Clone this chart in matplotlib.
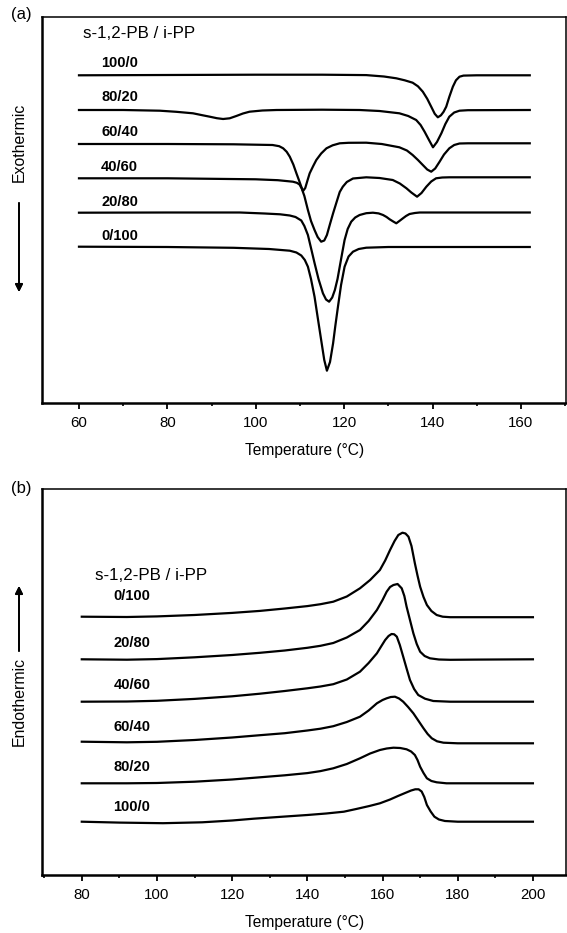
import matplotlib
matplotlib.use("Agg")
import matplotlib.pyplot as plt
from matplotlib.ticker import MultipleLocator

plt.rcParams['font.family'] = ['Liberation Sans', 'DejaVu Sans']

# ---- (a) cooling scans, exothermic downward ----
cool_labels = ['100/0', '80/20', '60/40', '40/60', '20/80', '0/100']

cool_t_100_0 = [60, 80, 100, 115, 125, 129, 131.8, 133.7, 135.5, 136.7, 137.8, 138.8, 139.7, 140.5,
                141.2, 141.9, 142.5, 143.1, 143.8, 144.6, 145.3, 146.1, 147.0, 150, 162]
cool_hf_100_0 = [0, 0.3, 0.6, 0.6, 0.2, -1.2, -3.0, -5.0, -7.4, -11.0, -16.4, -23.5, -31.4, -38.5,
                 -42.0, -40.0, -36.5, -31.4, -21.5, -11.4, -5.0, -1.4, -0.3, 0, 0]

cool_t_80_20 = [60, 70, 78.3, 82, 85.8, 88, 89.6, 91.2, 92.6, 94.1, 95.6, 97.1, 98.6, 101.5, 104.7,
                115, 123.5, 128, 132.5, 134.5, 136.3, 137.3, 138.2, 139.2, 140.1, 141.0, 142.0,
                142.9, 143.8, 144.9, 146.1, 148, 162]
cool_hf_80_20 = [0, 0, -0.7, -1.8, -3.3, -5.3, -6.7, -8.2, -9.0, -8.3, -6.0, -3.5, -1.7, -0.5, 0,
                 0.3, 0, -1.0, -3.3, -6.0, -10.0, -15.0, -21.7, -30.0, -37.3, -32.0, -23.3,
                 -14.0, -6.7, -2.5, -0.7, -0.2, 0]

cool_t_60_40 = [60, 80, 95, 103.8, 105.3, 106.2, 107.0, 107.7, 108.5, 109.2, 109.8, 110.3, 110.7,
                111.2, 111.7, 112.2, 113.0, 113.7, 114.8, 116.0, 117.4, 119.0, 121, 125, 128.5,
                132.5, 134.2, 135.5, 136.7, 137.8, 138.8, 139.7, 140.6, 141.6, 142.6, 143.8,
                144.9, 146.1, 148, 162]
cool_hf_60_40 = [0, 0, -0.3, -1, -2.2, -4.3, -7.8, -12.7, -20.5, -29.3, -36.5, -42.7, -47,
                 -44, -36.5, -29.3, -22, -16, -9.5, -4.3, -1.3, 0.7, 1.2, 1.3, 0,
                 -3.3, -6.5, -11, -16, -21, -25.5, -27.7, -24.5, -17.7, -10.5, -4.3,
                 -1, 0.5, 0.7, 0.7]

cool_t_40_60 = [60, 80, 100, 105, 108.4, 109.3, 109.9, 110.4, 111.0, 111.8, 112.5, 113.3, 114.0,
                114.8, 115.5, 116.1, 116.8, 117.5, 118.2, 119.0, 119.7, 120.6, 122.0, 125.0, 128,
                131.0, 132.6, 134.1, 135.2, 136.5, 137.5, 138.6, 139.7, 140.8, 142.2, 143.8, 147, 162]
cool_hf_40_60 = [0, 0, -1, -1.9, -3.4, -4.5, -6.2, -10.2, -17.7, -31.7, -42.7, -51.7, -58.7,
                 -63.4, -62.2, -56.7, -45.7, -35, -25, -13.7, -8.4, -3.7, -0.2, 1, 0.3,
                 -1.7, -5.2, -10, -14.2, -18.4, -14.7, -8.4, -3.2, 0, 0.8, 1, 1, 1]

cool_t_20_80 = [60, 80, 96.4, 102, 105.5, 107.7, 109.0, 110.3, 111.0, 111.8, 112.5, 113.3, 114.2,
                115.2, 115.9, 116.6, 117.3, 117.9, 118.5, 119.0, 119.6, 120.1, 120.8, 121.6, 122.5,
                123.5, 125, 126.5, 127.8, 128.8, 129.6, 130.3, 131.1, 131.8, 132.5, 133.3, 134.0,
                134.8, 136, 137.1, 162]
cool_hf_20_80 = [0, 0.2, 0.2, -0.8, -1.6, -2.8, -4.3, -7.8, -13.3, -22.3, -35.3, -50.3, -66.3,
                 -80.6, -86.8, -89, -84.8, -77.3, -66.3, -54, -39.3, -27.3, -16.3, -9, -4.8,
                 -2.3, -0.5, 0, -0.7, -2.3, -4.3, -6.6, -8.8, -10.6, -8.3, -5.6, -3.3,
                 -1.3, -0.3, 0.2, 0.2]

cool_t_0_100 = [60, 80, 95, 103, 107.7, 109.2, 110.3, 111.1, 111.8, 112.5, 113.3, 114.0, 114.8,
                115.5, 116.1, 116.8, 117.5, 118.0, 118.6, 119.3, 120.1, 121.0, 122.0, 123.3,
                125.0, 130, 162]
cool_hf_0_100 = [0, -0.3, -1.1, -2.3, -4, -5.8, -8.8, -13.3, -20, -32.3, -50, -70.3, -93.3,
                 -113.3, -124, -115.3, -96.6, -79.3, -60, -38.3, -20, -9.8, -5, -2.3,
                 -1, -0.3, -0.3]

# ---- (b) heating scans, endothermic upward ----
heat_labels = ['0/100', '20/80', '40/60', '60/40', '80/20', '100/0']

heat_t_0_100 = [80, 92, 100, 110, 120, 127.4, 134, 140, 143.5, 146.9, 150.5, 154.0, 156.7, 159.3,
                160.7, 162.0, 163.2, 164.2, 165.3, 166.1, 166.9, 167.7, 168.6, 169.3, 170.0,
                170.9, 171.8, 173.0, 174.4, 176, 178, 185, 200]
heat_hf_0_100 = [0, -0.3, 0.3, 1.7, 3.8, 5.8, 8.2, 10.6, 12.5, 15, 20.2, 28.4, 36.7, 46.7,
                 56.2, 66.7, 75.7, 81.7, 84, 83.2, 80, 70.7, 53.4, 41.2, 30,
                 19.7, 11.7, 5.7, 1.7, 0, -0.5, -0.5, -0.5]

heat_t_20_80 = [80, 92, 100, 110, 120, 127.4, 134, 140, 143.5, 146.9, 150.5, 154.0, 156.3, 158.5,
                160, 161.1, 162.0, 162.9, 164.0, 165.1, 165.8, 166.4, 167.3, 168.2, 169.1,
                170.0, 171.2, 172.6, 175, 178, 185, 200]
heat_hf_20_80 = [0, -0.4, 0.2, 2.0, 4.3, 6.5, 8.8, 11.5, 13.5, 16.3, 21.8, 29.3, 38.3, 49.3,
                 59.3, 67.6, 72.3, 74.3, 75.3, 71, 63.3, 52.6, 39.3, 26, 15.3,
                 7.6, 3.3, 1, -0.2, -0.5, -0.3, 0]

heat_t_40_60 = [80, 92, 100, 110, 120, 127.4, 134, 140, 143.5, 146.9, 150.5, 154.0, 156.3, 158.5,
                159.7, 160.7, 161.6, 162.4, 163.1, 163.8, 164.6, 165.5, 166.4, 167.3, 168.4,
                169.5, 171.3, 173.5, 178, 190, 200]
heat_hf_40_60 = [0, 0.2, 0.9, 2.8, 5.4, 8.0, 10.7, 13.4, 15.2, 17.5, 22.2, 30, 38.7, 48.4,
                 55.7, 61.7, 65.7, 67.7, 67.4, 65, 56.7, 45, 33.2, 21.7, 12.7,
                 6.7, 3, 0.7, 0, 0, 0]

heat_t_60_40 = [80, 92, 100, 110, 120, 127.4, 134, 140, 143.5, 146.9, 150.5, 154.0, 156.3, 158.5,
                160, 161.1, 162.2, 163.3, 164.4, 165.5, 166.8, 168.2, 169.5, 170.9, 172.0,
                173.1, 174.5, 176.2, 180, 190, 200]
heat_hf_60_40 = [0, -0.6, -0.1, 1.7, 4.2, 6.5, 8.5, 11.2, 13.0, 15.5, 19.7, 25, 31.2, 38.4,
                 41.7, 43.4, 44.7, 45, 43.2, 40, 34.7, 28.4, 21.2, 13.4, 7.7,
                 3.4, 0.4, -1, -1.6, -1.6, -1.6]

heat_t_80_20 = [80, 92, 100, 110, 120, 127.4, 134, 140, 143.5, 146.9, 150.5, 154.0, 156.7, 159.3,
                161.1, 162.9, 164.7, 166.4, 167.6, 168.6, 169.3, 170.0, 170.9, 171.8, 173.0,
                174.4, 177, 185, 200]
heat_hf_80_20 = [0, 0, 0.3, 1.6, 3.8, 6.0, 8, 10.2, 12.2, 15, 19.3, 25, 29.8, 33.3,
                 34.8, 35.6, 35.3, 34, 31.8, 28.3, 23.3, 16.6, 10.3, 5, 2.3,
                 1, 0, 0, 0]

heat_t_100_0 = [80, 90, 101.6, 112, 120, 125.7, 133, 140, 145, 149.7, 153, 156.5, 159.3, 162,
                164.1, 166, 167.6, 168.7, 169.6, 170.4, 171.1, 171.8, 172.8, 173.8, 175,
                176.6, 180, 190, 200]
heat_hf_100_0 = [0, -0.9, -1.5, -0.6, 1.2, 3.0, 4.9, 6.7, 8.2, 10, 12.7, 15.7, 18.4, 22.2,
                 25.7, 28.7, 31.2, 32.4, 32.4, 30.2, 24.7, 16.7, 10.2, 5, 2.2,
                 0.7, 0, 0, 0]

cool_curves = [(cool_t_100_0, cool_hf_100_0), (cool_t_80_20, cool_hf_80_20),
               (cool_t_60_40, cool_hf_60_40), (cool_t_40_60, cool_hf_40_60),
               (cool_t_20_80, cool_hf_20_80), (cool_t_0_100, cool_hf_0_100)]
heat_curves = [(heat_t_0_100, heat_hf_0_100), (heat_t_20_80, heat_hf_20_80),
               (heat_t_40_60, heat_hf_40_60), (heat_t_60_40, heat_hf_60_40),
               (heat_t_80_20, heat_hf_80_20), (heat_t_100_0, heat_hf_100_0)]

# vertical stacking of the traces (layout only)
cool_shift = [327.7, 293, 259, 224.7, 190.3, 156.3]
heat_shift = [258.3, 215.7, 173.3, 133.3, 91.7, 53.3]

W, H = 567, 933
fig = plt.figure(figsize=(W / 100, H / 100), dpi=100)
ax_a = fig.add_axes([42.3 / W, 1 - 403 / H, (566 - 42.3) / W, 386 / H])
ax_b = fig.add_axes([42.3 / W, 1 - 875 / H, (566 - 42.3) / W, 386 / H])


def style_axis(ax, xlim, ticks):
    ax.set_xlim(*xlim)
    ax.set_ylim(0, 386)
    ax.set_xticks(ticks)
    ax.xaxis.set_minor_locator(MultipleLocator(10))
    ax.set_yticks([])
    ax.tick_params(axis='x', which='major', direction='out', length=4, width=1.3,
                   labelsize=10.8, pad=5.5)
    ax.tick_params(axis='x', which='minor', direction='out', length=2.2, width=1.2)
    for side in ['left', 'bottom']:
        ax.spines[side].set_linewidth(1.8)
    for side in ['top', 'right']:
        ax.spines[side].set_linewidth(1.1)
    ax.set_xlabel('Temperature (°C)', fontsize=11.2, labelpad=9.5)


style_axis(ax_a, (51.7, 170.2), [60, 80, 100, 120, 140, 160])
style_axis(ax_b, (69.5, 208.8), [80, 100, 120, 140, 160, 180, 200])

for (t, hf), s in zip(cool_curves, cool_shift):
    ax_a.plot(t, [s + v for v in hf], color='black', lw=1.6, solid_joinstyle='round')
for (t, hf), s in zip(heat_curves, heat_shift):
    ax_b.plot(t, [s + v for v in hf], color='black', lw=1.6, solid_joinstyle='round')

# composition labels
ax_a.text(60.9, 369.7, 's-1,2-PB / i-PP', fontsize=12.2, va='center', ha='left')
for lab, y in zip(cool_labels, [340, 306.3, 271.3, 236.3, 201.3, 167]):
    ax_a.text(65.0, y, lab, fontsize=10.5, fontweight='bold', va='center', ha='left')

ax_b.text(83.5, 300, 's-1,2-PB / i-PP', fontsize=12.2, va='center', ha='left')
for lab, y in zip(heat_labels, [279, 231.7, 190, 148.3, 108.3, 68.3]):
    ax_b.text(88.4, y, lab, fontsize=10.5, fontweight='bold', va='center', ha='left')

# panel letters
fig.text(21 / W, 1 - 14 / H, '(a)', fontsize=12, ha='center', va='center')
fig.text(21 / W, 1 - 489 / H, '(b)', fontsize=12, ha='center', va='center')

# heat-flow direction labels with arrows
fig.text(19 / W, 1 - 142.5 / H, 'Exothermic', rotation=90, fontsize=11.4,
         ha='center', va='center')
fig.add_artist(plt.annotate('', xy=(19 / W, 1 - 292 / H), xytext=(19 / W, 1 - 203 / H),
                            xycoords='figure fraction',
                            arrowprops=dict(arrowstyle='-|>', color='black', lw=1.3,
                                            mutation_scale=11, shrinkA=0, shrinkB=0)))
fig.text(19 / W, 1 - 702 / H, 'Endothermic', rotation=90, fontsize=11.4,
         ha='center', va='center')
fig.add_artist(plt.annotate('', xy=(19 / W, 1 - 586 / H), xytext=(19 / W, 1 - 651 / H),
                            xycoords='figure fraction',
                            arrowprops=dict(arrowstyle='-|>', color='black', lw=1.3,
                                            mutation_scale=11, shrinkA=0, shrinkB=0)))

fig.savefig('out.png', dpi=100)
